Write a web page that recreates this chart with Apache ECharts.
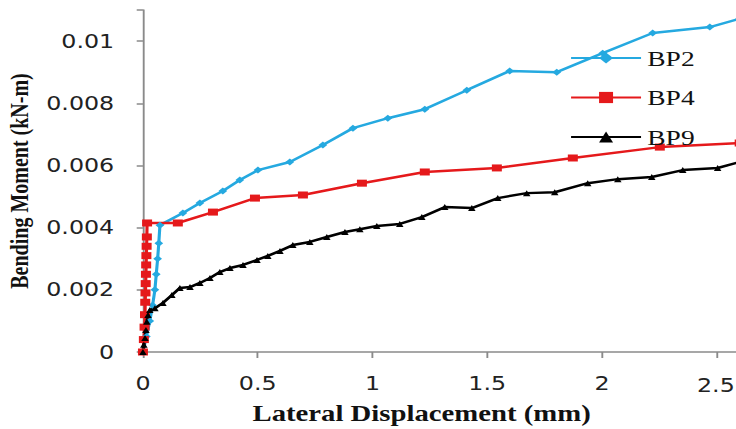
<!DOCTYPE html>
<html><head><meta charset="utf-8">
<script src="https://cdn.jsdelivr.net/npm/echarts@6.0.0/dist/echarts.min.js"></script>
<style>
html,body{margin:0;padding:0;background:#fff;overflow:hidden;width:736px;height:429px;}
#chart{width:589px;height:429px;transform:scaleX(1.2496);transform-origin:0 0;}
</style></head><body><div id="chart"></div>
<script>
// Lateral displacement (mm) and bending moment (kN-m)
const bp2Disp   = [0, 0.015, 0.030, 0.042, 0.052, 0.058, 0.064, 0.069, 0.074, 0.174, 0.248, 0.348, 0.422, 0.501, 0.640, 0.784, 0.915, 1.067, 1.228, 1.411, 1.598, 1.803, 2.003, 2.221, 2.470, 2.600];
const bp2Moment = [0, 0.0005, 0.0010, 0.0015, 0.0020, 0.0025, 0.0030, 0.0035, 0.00408, 0.00447, 0.00479, 0.00518, 0.00553, 0.00585, 0.00611, 0.00666, 0.00720, 0.00752, 0.00781, 0.00842, 0.00904, 0.00900, 0.00961, 0.01026, 0.01045, 0.01072];

const bp4Disp   = [0, 0.004, 0.007, 0.009, 0.010, 0.011, 0.012, 0.013, 0.014, 0.015, 0.016, 0.017, 0.018, 0.152, 0.305, 0.488, 0.697, 0.954, 1.228, 1.542, 1.873, 2.252, 2.600];
const bp4Moment = [0, 0.0004, 0.0008, 0.0012, 0.0016, 0.0019, 0.0022, 0.0025, 0.0028, 0.0031, 0.0034, 0.0037, 0.00415, 0.00415, 0.0045, 0.00495, 0.00505, 0.00543, 0.00579, 0.00592, 0.00624, 0.00659, 0.00672];

const bp9Disp   = [0, 0.004, 0.009, 0.013, 0.017, 0.022, 0.030, 0.052, 0.087, 0.126, 0.161, 0.205, 0.248, 0.292, 0.335, 0.379, 0.436, 0.497, 0.544, 0.597, 0.653, 0.727, 0.801, 0.880, 0.945, 1.019, 1.119, 1.215, 1.315, 1.433, 1.546, 1.672, 1.794, 1.938, 2.069, 2.217, 2.352, 2.504, 2.600];
const bp9Moment = [0, 0.00023, 0.00045, 0.00071, 0.00097, 0.00119, 0.00135, 0.00141, 0.00158, 0.00183, 0.00206, 0.00209, 0.00222, 0.00238, 0.00257, 0.0027, 0.0028, 0.00296, 0.00309, 0.00325, 0.00344, 0.00354, 0.0037, 0.00386, 0.00395, 0.00405, 0.00412, 0.00434, 0.00466, 0.00463, 0.00495, 0.00511, 0.00514, 0.00543, 0.00556, 0.00563, 0.00585, 0.00592, 0.00611];

const seriesNames = ['BP2', 'BP4', 'BP9'];
const xAxisTitle = 'Lateral Displacement (mm)';
const yAxisTitle = 'Bending Moment (kN-m)';
const lastXTickLabel = '2.5';

function zip(a, b) { return a.map((v, i) => [v, b[i]]); }

const chart = echarts.init(document.getElementById('chart'), null, {renderer: 'svg'});
const axisColor = '#8a8a8a';
const titleFont = {fontFamily: 'Liberation Serif', fontWeight: 'bold', color: '#111'};

chart.setOption({
  animation: false,
  backgroundColor: '#fff',
  grid: {left: 114.4, top: 10, width: 551, height: 342, containLabel: false, outerBoundsMode: 'none'},
  legend: {
    orient: 'vertical', left: 456, top: 47, padding: 0,
    itemWidth: 56, itemHeight: 14, itemGap: 17.5,
    textStyle: {fontFamily: 'Liberation Serif', fontSize: 22, color: '#111', lineHeight: 22},
    data: seriesNames
  },
  // the last tick label sits at the right edge, kept fully inside the picture
  graphic: [{
    type: 'text', right: 1, top: 376, silent: true,
    style: {text: lastXTickLabel, fontFamily: 'DejaVu Sans', fontSize: 19, fill: '#222'}
  }],
  xAxis: {
    type: 'value', min: 0, max: 3, interval: 0.5,
    name: xAxisTitle, nameLocation: 'middle', nameGap: 50,
    nameTextStyle: Object.assign({fontSize: 23, padding: [0, 105, 0, 0]}, titleFont),
    axisLine: {show: true, lineStyle: {color: axisColor, width: 1.5}},
    axisTick: {show: true, length: 6, lineStyle: {color: axisColor, width: 1.5}},
    axisLabel: {
      margin: 22, fontFamily: 'DejaVu Sans', fontSize: 19, color: '#222',
      formatter: function (value) {
        return Number(value) > 2.4 ? '' : String(value);
      }
    },
    splitLine: {show: false}
  },
  yAxis: {
    type: 'value', min: 0, max: 0.011, interval: 0.002,
    name: yAxisTitle, nameLocation: 'middle', nameGap: 85,
    nameTextStyle: Object.assign({fontSize: 20}, titleFont),
    axisLine: {show: true, lineStyle: {color: axisColor, width: 1.5}},
    axisTick: {show: true, length: 5, lineStyle: {color: axisColor, width: 1.5}},
    axisLabel: {
      margin: 23, fontFamily: 'DejaVu Sans', fontSize: 19, color: '#222',
      formatter: function (v) {
        const k = Math.round(v * 1000);
        if (Math.abs(v * 1000 - k) > 1e-6 || k % 2) return '';
        return String(+v.toFixed(3));
      }
    },
    splitLine: {show: false}
  },
  series: [
    {name: 'BP2', type: 'line', data: zip(bp2Disp, bp2Moment), symbol: 'diamond', symbolSize: 7,
     itemStyle: {color: '#25A9E0'}, lineStyle: {color: '#25A9E0', width: 2.5}},
    {name: 'BP4', type: 'line', data: zip(bp4Disp, bp4Moment), symbol: 'rect', symbolSize: [8, 7],
     itemStyle: {color: '#E5191B'}, lineStyle: {color: '#E5191B', width: 2.5}},
    {name: 'BP9', type: 'line', data: zip(bp9Disp, bp9Moment), symbol: 'triangle', symbolSize: 6,
     itemStyle: {color: '#000'}, lineStyle: {color: '#000', width: 2.5}}
  ]
});
</script></body></html>
